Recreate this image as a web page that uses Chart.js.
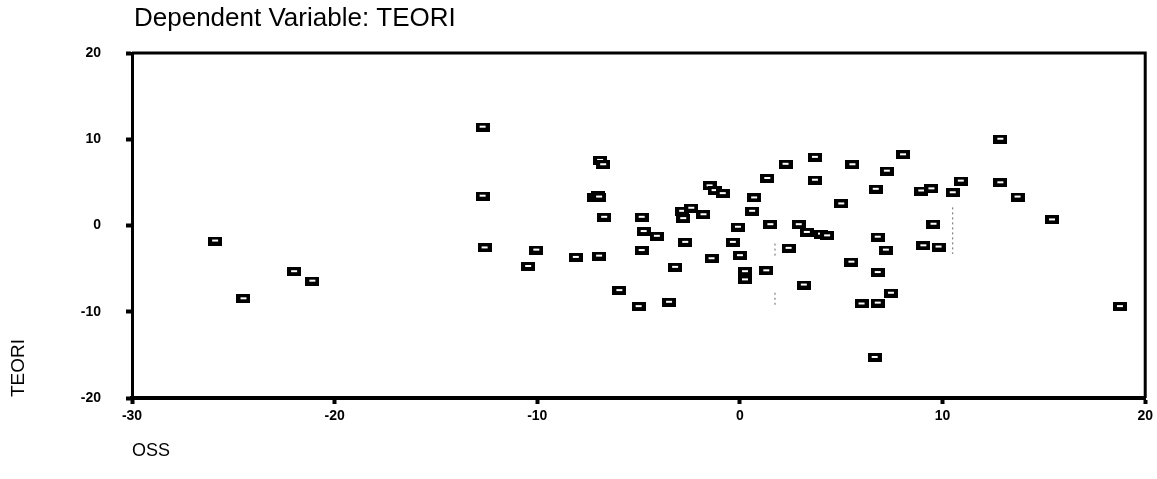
<!DOCTYPE html>
<html>
<head>
<meta charset="utf-8">
<title>Dependent Variable: TEORI</title>
<script src="https://cdn.jsdelivr.net/npm/chart.js@4.4.1/dist/chart.umd.min.js"></script>
<style>
    html, body { margin: 0; padding: 0; background: #fff; }
    #wrap { width: 1157px; height: 479px; }
</style>
</head>
<body>
<div id="wrap"><canvas id="graph" width="1157" height="479"></canvas></div>
<script>
// chart texts
const chartTitle = 'Dependent Variable: TEORI';
const xTitle = 'OSS';
const yTitle = 'TEORI';
// tick labels on both axes
const xTicks = [-30, -20, -10, 0, 10, 20];
const yTicks = [-20, -10, 0, 10, 20];
// OSS values (x)
const oss = [
    -25.9, -24.5, -22.0, -21.1, -12.7, -12.7, -12.6, -10.05, -10.45, -8.1,
    -6.9, -6.75, -7.2, -7.0, -6.95, -6.7, -6.95, -5.95, -5.0, -4.85,
    -4.75, -4.1, -4.85, -3.2, -3.5, -2.7, -2.85, -2.4, -2.8, -1.8,
    -1.5, -1.25, -0.85, -1.4, -0.35, -0.1, 0.0, 0.25, 0.25, 0.7,
    0.6, 1.35, 2.25, 1.5, 1.3, 2.4, 3.7, 3.7, 5.55, 7.25,
    8.05, 6.7, 5.0, 2.9, 3.3, 4.0, 4.3, 6.8, 7.2, 5.5,
    6.8, 3.15, 7.45, 6.0, 6.8, 6.65, 8.95, 9.45, 10.5, 10.9,
    9.55, 9.05, 9.8, 12.85, 12.85, 13.7, 15.4, 18.75
];
// TEORI values (y), same order as oss
const teori = [
    -1.8, -8.5, -5.35, -6.45, 11.4, 3.4, -2.6, -2.85, -4.75, -3.7,
    7.55, 7.05, 3.2, 3.5, 3.3, 0.95, -3.55, -7.55, -9.4, 0.95,
    -0.7, -1.25, -2.9, -4.85, -8.9, -1.95, 1.65, 2.0, 0.8, 1.25,
    4.6, 4.05, 3.7, -3.85, -1.95, -0.2, -3.5, -5.35, -6.3, 3.2,
    1.65, 5.45, 7.1, 0.1, -5.25, -2.65, 7.9, 5.25, 7.05, 6.3,
    8.2, 4.2, 2.5, 0.1, -0.8, -1.0, -1.2, -1.35, -2.85, -4.25,
    -5.45, -6.9, -7.85, -9.1, -9.0, -15.3, 4.0, 4.25, 3.8, 5.15,
    0.15, -2.35, -2.5, 10.0, 4.95, 3.3, 0.65, -9.4
];
// faint dotted scan marks inside the plot (x, y pairs)
const dotsA = [[1.73, -2.1], [1.73, -3.7]];
const dotsB = [[1.73, -7.8], [1.73, -9.5]];
const dotsC = [[10.5, 2.1], [10.5, -3.3]];

// small black box with a white slit, like the old SPSS marker
var marker = document.createElement('canvas');
marker.width = 14;
marker.height = 9;
var mctx = marker.getContext('2d');
mctx.fillStyle = '#000';
mctx.fillRect(0, 0, 14, 9);
mctx.fillStyle = '#fff';
mctx.fillRect(4, 3, 6, 2);

// build points for the scatter
var points = [];
for (var k = 0; k < oss.length; k++) {
    points.push({ x: oss[k], y: teori[k] });
}

// helper for the dotted marks
function dotted(pairs) {
    return {
        data: pairs.map(function(p) { return { x: p[0], y: p[1] }; }),
        showLine: true,
        borderColor: '#666',
        borderWidth: 1,
        borderDash: [2, 3],
        pointRadius: 0,
        pointHoverRadius: 0
    };
}

// draws title, axis titles and the closed frame
const frame = {
    id: 'frame',
    afterDraw: function(chart) {
        var ctx = chart.ctx;
        var a = chart.chartArea;
        ctx.save();
        ctx.strokeStyle = '#000';
        ctx.lineWidth = 3;
        ctx.beginPath();
        ctx.moveTo(a.left, a.top);
        ctx.lineTo(a.right, a.top);
        ctx.lineTo(a.right, a.bottom);
        ctx.stroke();
        ctx.fillStyle = '#000';
        ctx.textAlign = 'left';
        ctx.textBaseline = 'alphabetic';
        ctx.font = '26px "Liberation Sans", Arial, sans-serif';
        ctx.fillText(chartTitle, 134, 26);
        ctx.font = '18px "Liberation Sans", Arial, sans-serif';
        ctx.fillText(xTitle, 132, 456);
        ctx.translate(24, 397);
        ctx.rotate(-Math.PI / 2);
        ctx.font = '19px "Liberation Sans", Arial, sans-serif';
        ctx.fillText(yTitle, 0, 0);
        ctx.restore();
    }
};

var tickFont = { family: '"Liberation Sans", Arial, sans-serif', size: 14, weight: 'bold' };

var ctx = document.getElementById('graph').getContext('2d');
var graph = new Chart(ctx, {
    type: 'scatter',
    data: {
        datasets: [
            dotted(dotsA),
            dotted(dotsB),
            dotted(dotsC),
            {
                label: yTitle,
                data: points,
                pointStyle: marker,
                pointRadius: 7,
                pointHoverRadius: 7
            }
        ]
    },
    options: {
        responsive: false,
        animation: false,
        layout: { padding: { top: 53, right: 7, left: 0, bottom: 0 } },
        plugins: {
            legend: { display: false },
            title: { display: false },
            tooltip: { enabled: false }
        },
        scales: {
            x: {
                type: 'linear',
                min: -30,
                max: 20,
                afterBuildTicks: function(scale) {
                    scale.ticks = xTicks.map(function(v) { return { value: v }; });
                },
                afterFit: function(scale) { scale.height = 81; },
                grid: { drawOnChartArea: false, drawTicks: true, tickLength: 6, tickWidth: 4, color: '#000' },
                border: { display: true, color: '#000', width: 4 },
                ticks: { color: '#000', font: tickFont, padding: 4, maxRotation: 0 }
            },
            y: {
                type: 'linear',
                min: -20,
                max: 20,
                afterBuildTicks: function(scale) {
                    scale.ticks = yTicks.map(function(v) { return { value: v }; });
                },
                afterFit: function(scale) { scale.width = 132; },
                grid: { drawOnChartArea: false, drawTicks: true, tickLength: 6, tickWidth: 4, color: '#000' },
                border: { display: true, color: '#000', width: 3 },
                ticks: { color: '#000', font: tickFont, padding: 25 }
            }
        }
    },
    plugins: [frame]
});
</script>
</body>
</html>
